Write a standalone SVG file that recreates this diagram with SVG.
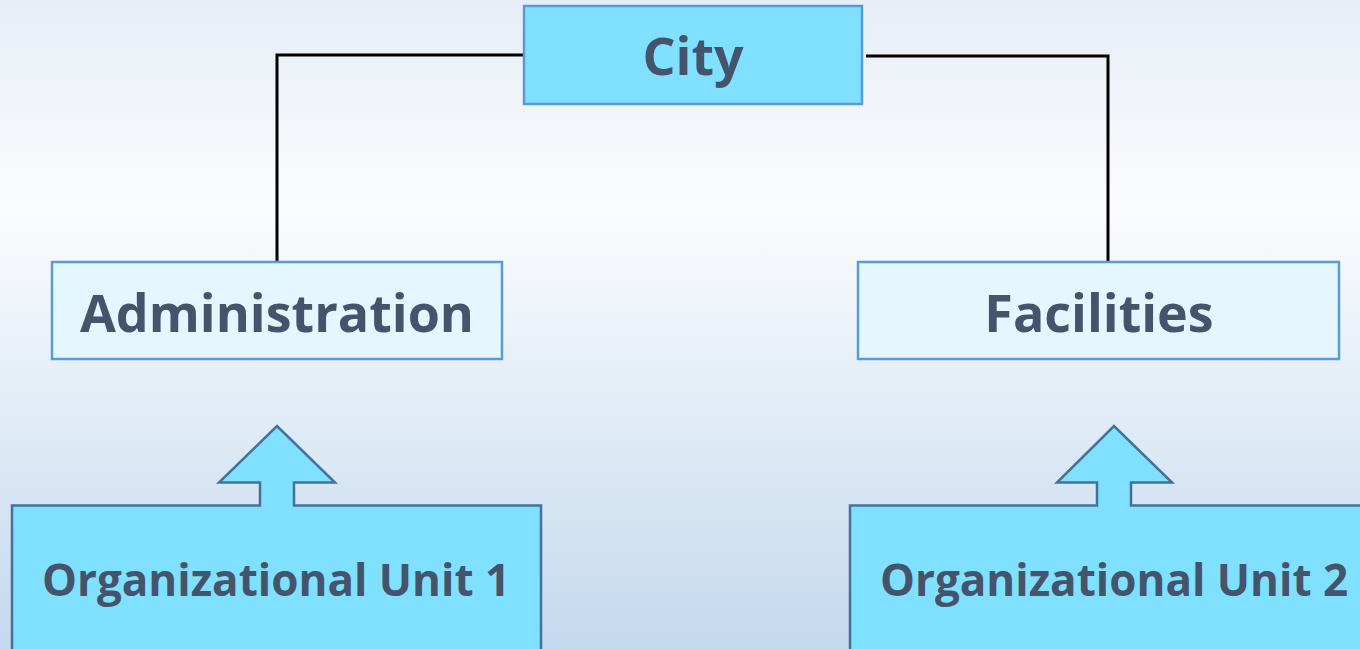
<svg xmlns="http://www.w3.org/2000/svg" width="1360" height="649" viewBox="0 0 1360 649">
<defs>
<linearGradient id="bg" x1="0" y1="0" x2="0" y2="1">
<stop offset="0" stop-color="#e7eef7"/>
<stop offset="0.32" stop-color="#fbfcfd"/>
<stop offset="1" stop-color="#c3d9ee"/>
</linearGradient>
<style>
.t{font-family:"Open Sans","Noto Sans","Liberation Sans",sans-serif;font-weight:700;fill:#44546a;text-anchor:middle}
.top{fill:#80e0ff;stroke:#5b9bd5;stroke-width:2.5}
.mid{fill:#e4f7fe;stroke:#5b9bd5;stroke-width:2.5}
.org{fill:#80e0ff;stroke:#41719c;stroke-width:2.5}
.conn{fill:none;stroke:#000;stroke-width:3}
</style>
</defs>
<rect width="1360" height="649" fill="url(#bg)"/>
<g id="connectors">
<polyline class="conn" points="524,55 277,55 277,262"/>
<polyline class="conn" points="866,56 1108,56 1108,262"/>
</g>
<g id="city">
<rect class="top" x="524" y="6" width="338" height="98"/>
<text class="t" x="693" y="75" font-size="52">City</text>
</g>
<g id="administration">
<rect class="mid" x="52" y="262" width="450" height="97"/>
<text class="t" x="277" y="332" font-size="52">Administration</text>
</g>
<g id="facilities">
<rect class="mid" x="858" y="262" width="481" height="97"/>
<text class="t" x="1099" y="332" font-size="52">Facilities</text>
</g>
<g id="org1">
<path class="org" d="M12,660 L12,505.5 L260,505.5 L260,482.5 L219,482.5 L277,426 L335,482.5 L294,482.5 L294,505.5 L541,505.5 L541,660 Z"/>
<text class="t" x="276" y="596" font-size="44">Organizational Unit 1</text>
</g>
<g id="org2">
<path class="org" d="M850,660 L850,505.5 L1097,505.5 L1097,482.5 L1057,482.5 L1114,426 L1172,482.5 L1131,482.5 L1131,505.5 L1370,505.5 L1370,660 Z"/>
<text class="t" x="1114" y="596" font-size="44">Organizational Unit 2</text>
</g>
</svg>
